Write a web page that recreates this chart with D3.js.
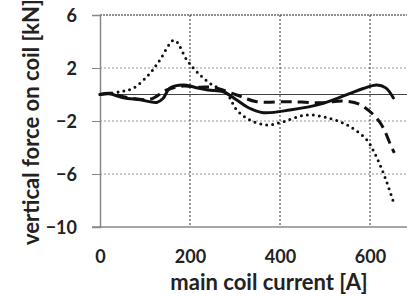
<!DOCTYPE html>
<html>
<head>
<meta charset="utf-8">
<script src="https://cdn.jsdelivr.net/npm/d3@7"></script>
<style>
  body { margin: 0; background: #fff; }
  svg { display: block; }
  text { font-family: Lato, "Open Sans", sans-serif; font-weight: bold; fill: #222; }
</style>
</head>
<body>
<div id="chart"></div>
<script>
// values (current in A, force in kN)
var solidCurrent = [0, 20, 52, 90, 126, 140, 155, 185, 210, 240, 274, 304, 330, 363, 422, 496, 556, 585, 615, 635, 652];
var solidForce   = [0, 0.05, -0.24, -0.4, -0.6, -0.3, 0.47, 0.72, 0.55, 0.34, 0.21, -0.42, -1.0, -1.37, -1.17, -0.67, 0.09, 0.45, 0.72, 0.5, -0.26];

var dashCurrent = [0, 22, 52, 111, 148, 185, 220, 252, 304, 348, 422, 496, 541, 580, 622, 647, 654];
var dashForce   = [0, 0.1, -0.16, -0.36, 0.34, 0.64, 0.55, 0.54, -0.04, -0.54, -0.54, -0.62, -0.49, -0.8, -2.1, -3.9, -4.4];

var dotCurrent = [0, 44, 74, 111, 133, 165, 193, 215, 244, 281, 304, 333, 370, 407, 459, 511, 556, 593, 607, 630, 652];
var dotForce   = [0, 0.21, 0.47, 1.6, 2.6, 4.1, 2.6, 1.72, 0.85, 0.09, -1.17, -1.92, -2.3, -2.05, -1.55, -1.8, -2.43, -3.43, -4.2, -5.95, -8.1];

var xTicks = [0, 200, 400, 600];
var yTicks = [6, 2, -2, -6, -10];

function zip(xs, ys) {
  return xs.map(function(x, i) { return {a: x, f: ys[i]}; });
}

function init() {
  var W = 407, H = 297;
  var svg = d3.select("#chart").append("svg")
    .attr("width", W)
    .attr("height", H);

  var x = d3.scaleLinear().domain([0, 700]).range([100, 415]);
  var y = d3.scaleLinear().domain([-10, 6]).range([227, 15]);

  // horizontal grid lines
  svg.selectAll("line.hgrid")
    .data([2, -2, -6])
    .enter().append("line")
    .attr("class", "hgrid")
    .attr("x1", 100).attr("x2", W)
    .attr("y1", function(d) { return y(d); })
    .attr("y2", function(d) { return y(d); })
    .style("stroke", "#777")
    .style("stroke-width", 0.8)
    .style("stroke-dasharray", "2,2");

  // top line at 6 is a bit darker
  svg.append("line")
    .attr("x1", 100).attr("x2", W)
    .attr("y1", y(6)).attr("y2", y(6))
    .style("stroke", "#222")
    .style("stroke-width", 1)
    .style("stroke-dasharray", "2,1");

  // vertical grid lines
  svg.selectAll("line.vgrid")
    .data([200, 400, 600])
    .enter().append("line")
    .attr("class", "vgrid")
    .attr("x1", function(d) { return x(d); })
    .attr("x2", function(d) { return x(d); })
    .attr("y1", y(6)).attr("y2", y(-10))
    .style("stroke", "#333")
    .style("stroke-width", 1)
    .style("stroke-dasharray", "2,2");

  // zero line
  svg.append("line")
    .attr("x1", 100).attr("x2", W)
    .attr("y1", y(0)).attr("y2", y(0))
    .style("stroke", "#444")
    .style("stroke-width", 1);

  // axes
  var yAxis = d3.axisLeft(y).tickValues(yTicks).tickSize(8).tickFormat(d3.format("d"));
  var gy = svg.append("g")
    .attr("transform", "translate(100,0)")
    .call(yAxis);
  gy.select(".domain").style("stroke", "#888").style("stroke-width", 1.5);
  gy.selectAll(".tick line").style("stroke", "#888");
  gy.selectAll("text")
    .attr("x", -23)
    .attr("dy", "0.36em")
    .style("font-size", "18px")
    .style("font-family", "Lato, sans-serif")
    .style("font-weight", "bold")
    .style("fill", "#222");

  var xAxis = d3.axisBottom(x).tickValues(xTicks).tickSize(0).tickFormat(d3.format("d"));
  var gx = svg.append("g")
    .attr("transform", "translate(0," + y(-10) + ")")
    .call(xAxis);
  gx.select(".domain").remove();
  gx.selectAll("text")
    .attr("y", 36)
    .attr("dy", null)
    .style("font-size", "18px")
    .style("font-family", "Lato, sans-serif")
    .style("font-weight", "bold")
    .style("fill", "#222");
  svg.append("line")
    .attr("x1", 92).attr("x2", W)
    .attr("y1", y(-10)).attr("y2", y(-10))
    .style("stroke", "#888")
    .style("stroke-width", 1.5);

  // the three curves
  var line = d3.line()
    .x(function(d) { return x(d.a); })
    .y(function(d) { return y(d.f); })
    .curve(d3.curveCatmullRom.alpha(0.5));

  svg.append("path")
    .datum(zip(dotCurrent, dotForce))
    .attr("d", line)
    .style("fill", "none")
    .style("stroke", "#111")
    .style("stroke-width", 3)
    .style("stroke-linecap", "round")
    .style("stroke-dasharray", "0,6");

  svg.append("path")
    .datum(zip(dashCurrent, dashForce))
    .attr("d", line)
    .style("fill", "none")
    .style("stroke", "#111")
    .style("stroke-width", 3)
    .style("stroke-dasharray", "11,6");

  svg.append("path")
    .datum(zip(solidCurrent, solidForce))
    .attr("d", line)
    .style("fill", "none")
    .style("stroke", "#111")
    .style("stroke-width", 3)
    .style("stroke-linecap", "round");

  // axis titles
  svg.append("text")
    .attr("transform", "translate(39,122) rotate(-90)")
    .attr("text-anchor", "middle")
    .style("font-size", "22px")
    .text("vertical force on coil [kN]");

  svg.append("text")
    .attr("x", 269)
    .attr("y", 290)
    .attr("text-anchor", "middle")
    .style("font-size", "22px")
    .text("main coil current [A]");
}

window.onload = init;
</script>
</body>
</html>
